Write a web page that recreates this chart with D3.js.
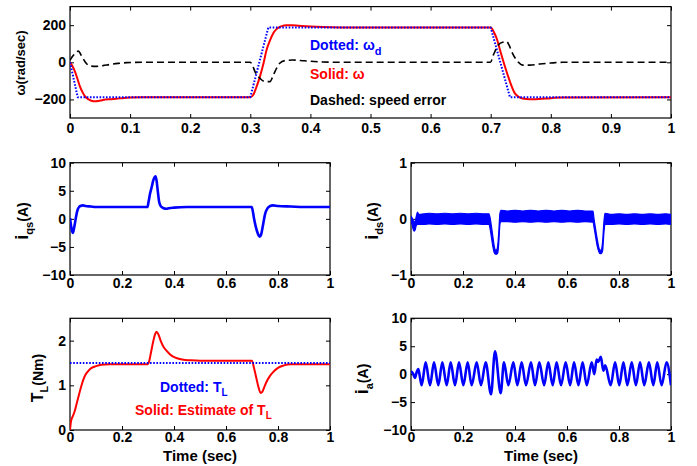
<!DOCTYPE html>
<html>
<head>
<meta charset="utf-8">
<script src="https://cdn.jsdelivr.net/npm/d3@7"></script>
<style>
  body { margin: 0; background: #fff; }
  svg text { font-family: "Liberation Sans", Arial, sans-serif; font-weight: bold; }
</style>
</head>
<body>
<svg id="fig" width="697" height="466"></svg>
<script>
// ---- speed response (rad/sec) ----
const omegaRefT = [0, 0.0128, 0.3, 0.33, 0.7, 0.732, 1];
const omegaRef  = [0, -188, -188, 188, 188, -188, -188];

const omegaT = [0, 0.004, 0.0083, 0.0125, 0.0166, 0.021, 0.025, 0.031, 0.0388, 0.047, 0.055, 0.066, 0.077, 0.09, 0.1, 0.12,
  0.3, 0.305, 0.31, 0.316, 0.322, 0.327, 0.333, 0.338, 0.344, 0.349, 0.355, 0.36, 0.37, 0.38, 0.4, 0.42, 0.45,
  0.7, 0.705, 0.71, 0.7155, 0.7238, 0.732, 0.74, 0.746, 0.7515, 0.76, 0.77, 0.78, 0.8, 0.82, 1];
const omega = [0, -20, -50, -90, -131, -162, -184, -200, -210, -208, -203, -199, -196, -192, -190, -188,
  -188, -175, -135, -77, -5, 66, 120, 155, 180, 191, 197, 200, 199, 197, 193, 190, 188,
  188, 165, 128, 66, -24, -104, -166, -185, -194, -198, -199, -198, -193, -189, -188];

const errT = [0, 0.005, 0.0138, 0.02, 0.025, 0.033, 0.044, 0.055, 0.066, 0.08, 0.094, 0.12,
  0.3, 0.304, 0.3078, 0.316, 0.3245, 0.3328, 0.337, 0.341, 0.345, 0.349, 0.3577, 0.37, 0.39, 0.42, 0.45,
  0.6995, 0.7044, 0.7126, 0.72, 0.7266, 0.731, 0.735, 0.743, 0.754, 0.765, 0.78, 0.8, 0.82, 1];
const speedErr = [12, 35, 60, 30, 3, -20, -22, -18, -12, -6, -2, 0,
  0, -20, -50, -86, -104, -104, -80, -50, -25, -5, 9, 12, 8, 2, 0,
  0, 39, 93, 108, 110, 90, 57, 12, -15, -15, -10, -4, 0, 0];

// ---- q-axis stator current (A) ----
const iqsT = [0, 0.004, 0.008, 0.011, 0.015, 0.02, 0.025, 0.03, 0.035, 0.04, 0.05, 0.06, 0.08, 0.1, 0.15, 0.2, 0.25,
  0.298, 0.302, 0.308, 0.315, 0.32, 0.325, 0.329, 0.333, 0.338, 0.343, 0.35, 0.36, 0.37, 0.38, 0.4, 0.45, 0.5, 0.6,
  0.699, 0.703, 0.708, 0.714, 0.72, 0.726, 0.73, 0.735, 0.742, 0.75, 0.76, 0.77, 0.78, 0.8, 0.85, 0.9, 1];
const iqs = [0.1, -1.2, -2.2, -2.5, -1.8, -0.5, 0.8, 1.7, 2.1, 2.3, 2.4, 2.3, 2.2, 2.1, 2.1, 2.1, 2.1,
  2.1, 3.0, 4.5, 5.8, 6.8, 7.4, 7.6, 6.8, 4.8, 3.0, 2.2, 1.9, 1.8, 1.9, 2.0, 2.1, 2.1, 2.1,
  2.1, 1.4, 0.0, -1.3, -2.3, -3.0, -3.2, -2.8, -1.2, 0.8, 1.9, 2.3, 2.4, 2.3, 2.2, 2.1, 2.1];

// ---- d-axis stator current (A): ripple band, upper and lower envelope ----
const idsT = [0, 0.004, 0.008, 0.012, 0.016, 0.02, 0.025, 0.03, 0.05, 0.07, 0.1, 0.13, 0.16, 0.19, 0.22, 0.25, 0.28, 0.3,
  0.305, 0.31, 0.315, 0.32, 0.325, 0.33, 0.334, 0.338, 0.342, 0.346, 0.37, 0.4, 0.43, 0.46, 0.49, 0.52, 0.55, 0.58, 0.61, 0.64, 0.67, 0.7,
  0.704, 0.71, 0.716, 0.722, 0.727, 0.732, 0.737, 0.742, 0.746, 0.77, 0.8, 0.83, 0.86, 0.89, 0.92, 0.95, 0.98, 1];
const idsHi = [0.05, 0.02, -0.02, -0.06, -0.04, 0.04, 0.12, 0.08, 0.09, 0.1, 0.09, 0.1, 0.09, 0.1, 0.09, 0.1, 0.09, 0.09,
  0.0, -0.15, -0.32, -0.48, -0.56, -0.55, -0.45, -0.2, 0.1, 0.15, 0.14, 0.15, 0.14, 0.15, 0.14, 0.15, 0.14, 0.15, 0.14, 0.15, 0.14, 0.14,
  0.0, -0.18, -0.35, -0.5, -0.56, -0.55, -0.4, -0.05, 0.1, 0.08, 0.09, 0.08, 0.09, 0.08, 0.09, 0.08, 0.09, 0.08];
const idsLo = [-0.05, -0.1, -0.18, -0.22, -0.2, -0.12, -0.1, -0.1, -0.1, -0.09, -0.1, -0.09, -0.1, -0.09, -0.1, -0.09, -0.1, -0.1,
  -0.2, -0.35, -0.5, -0.6, -0.63, -0.63, -0.6, -0.4, -0.1, -0.05, -0.05, -0.06, -0.05, -0.06, -0.05, -0.06, -0.05, -0.06, -0.05, -0.06, -0.05, -0.06,
  -0.15, -0.32, -0.48, -0.58, -0.62, -0.62, -0.57, -0.25, -0.1, -0.1, -0.09, -0.1, -0.09, -0.1, -0.09, -0.1, -0.09, -0.1];

// ---- load torque and its estimate (Nm) ----
const loadT = [0, 1];
const loadTorque = [1.5, 1.5];
const estT = [0, 0.004, 0.01, 0.018, 0.026, 0.034, 0.042, 0.051, 0.06, 0.07, 0.083, 0.1, 0.12, 0.15, 0.2, 0.3,
  0.305, 0.312, 0.32, 0.327, 0.333, 0.34, 0.35, 0.36, 0.372, 0.385, 0.397, 0.415, 0.436, 0.46, 0.5, 0.6, 0.7,
  0.708, 0.716, 0.724, 0.733, 0.74, 0.748, 0.756, 0.768, 0.782, 0.8, 0.82, 0.85, 0.9, 1];
const estTorque = [0, 0.2, 0.3, 0.42, 0.6, 0.78, 0.95, 1.12, 1.24, 1.32, 1.39, 1.43, 1.46, 1.47, 1.47, 1.47,
  1.55, 1.75, 1.98, 2.14, 2.2, 2.14, 1.98, 1.86, 1.77, 1.69, 1.64, 1.6, 1.57, 1.56, 1.55, 1.55, 1.55,
  1.38, 1.18, 0.98, 0.83, 0.86, 0.97, 1.08, 1.2, 1.3, 1.39, 1.44, 1.47, 1.47, 1.47];

// ---- phase-a current (A): turning points of the waveform ----
const iaT = [0, 0.008, 0.015, 0.022, 0.028, 0.034, 0.041, 0.0564, 0.0731, 0.0885, 0.1051, 0.1205, 0.1372, 0.1526, 0.1692,
  0.1846, 0.2013, 0.218, 0.2333, 0.2526, 0.2692, 0.2872, 0.3077, 0.3231, 0.3449, 0.3577, 0.3744, 0.3936, 0.409, 0.4256,
  0.4423, 0.4615, 0.4769, 0.4936, 0.512, 0.528, 0.545, 0.56, 0.577, 0.595, 0.612, 0.627, 0.644, 0.66, 0.676, 0.695,
  0.705, 0.714, 0.72, 0.73, 0.74, 0.747, 0.768, 0.785, 0.801, 0.817, 0.832, 0.849, 0.865, 0.881, 0.897, 0.915, 0.932,
  0.947, 0.964, 0.983, 1.0];
const ia = [0.5, 0.1, -0.7, 0.4, 0.9, -0.4, -2.0, 2.1, -2.0, 2.1, -2.0, 2.1, -2.0, 2.1, -2.0,
  2.1, -2.0, 2.1, -2.0, 2.1, -2.0, 2.1, -3.6, 4.1, -3.4, 2.1, -2.0, 2.1, -2.0, 2.1,
  -2.0, 2.1, -2.0, 2.1, -2.0, 2.1, -2.0, 2.1, -2.0, 2.1, -2.0, 2.1, -2.0, 2.1, -2.0, 2.1,
  0.0, 2.6, 2.2, 3.1, 0.6, 1.6, -2.0, 2.1, -2.0, 2.1, -2.0, 2.1, -2.0, 2.1, -2.0, 2.1, -2.0,
  2.1, -2.0, 2.1, -2.0];

// ---- tick values ----
const xTicksTop = [0, 0.1, 0.2, 0.3, 0.4, 0.5, 0.6, 0.7, 0.8, 0.9, 1];
const xTicksSmall = [0, 0.2, 0.4, 0.6, 0.8, 1];
const yTicksOmega = [-200, 0, 200];
const yTicksTen = [-10, -5, 0, 5, 10];
const yTicksOne = [-1, 0, 1];
const yTicksTorque = [0, 1, 2];

const svg = d3.select("#fig");
svg.append("rect").attr("width", 697).attr("height", 466).attr("fill", "#fff");

const tickFmt = d => (d === 0 ? "0" : d === 1 ? "1" : d3.format("~g")(d));
let clipId = 0;

function panel(o) {
  const x = d3.scaleLinear().domain([0, 1]).range([o.left, o.right]);
  const y = d3.scaleLinear().domain(o.yDomain).range([o.bottom, o.top]);
  const g = svg.append("g");
  const id = "clip" + (clipId++);
  g.append("clipPath").attr("id", id).append("rect")
    .attr("x", o.left).attr("y", o.top).attr("width", o.right - o.left).attr("height", o.bottom - o.top);

  const styleAxis = sel => {
    sel.select(".domain").remove();
    sel.selectAll("line").attr("stroke", "#000").attr("stroke-width", 1);
    sel.selectAll("text").attr("fill", "#000").style("font-size", "14px").style("font-weight", "bold");
  };
  g.append("g").attr("transform", `translate(0,${o.bottom})`)
    .call(d3.axisBottom(x).tickValues(o.xTicks).tickFormat(tickFmt).tickSize(-4).tickPadding(o.xPad))
    .call(styleAxis);
  g.append("g").attr("transform", `translate(0,${o.top})`)
    .call(d3.axisTop(x).tickValues(o.xTicks).tickFormat("").tickSize(-4))
    .call(styleAxis);
  g.append("g").attr("transform", `translate(${o.left},0)`)
    .call(d3.axisLeft(y).tickValues(o.yTicks).tickFormat(tickFmt).tickSize(-4).tickPadding(4))
    .call(styleAxis);
  g.append("g").attr("transform", `translate(${o.right},0)`)
    .call(d3.axisRight(y).tickValues(o.yTicks).tickFormat("").tickSize(-4))
    .call(styleAxis);

  g.append("rect")
    .attr("x", o.left).attr("y", o.top).attr("width", o.right - o.left).attr("height", o.bottom - o.top)
    .attr("fill", "none").attr("stroke", "#000").attr("stroke-width", 1.2);

  const plot = g.append("g").attr("clip-path", `url(#${id})`);
  return { x, y, g, plot };
}

function drawLine(p, ts, vs, style, curve) {
  const pts = ts.map((t, i) => [t, vs[i]]);
  const line = d3.line().x(d => p.x(d[0])).y(d => p.y(d[1])).curve(curve || d3.curveMonotoneX);
  const path = p.plot.append("path").datum(pts).attr("d", line)
    .attr("fill", "none").attr("stroke", style.color).attr("stroke-width", style.width)
    .attr("stroke-linejoin", "round");
  if (style.dash) path.attr("stroke-dasharray", style.dash);
  return path;
}

// y-axis label with optional subscript, rotated to read upward
function yLabel(cx, cy, parts) {
  const t = svg.append("text")
    .attr("transform", `translate(${cx},${cy}) rotate(-90)`)
    .attr("text-anchor", "middle").attr("fill", "#000");
  parts.forEach(pt => {
    const s = t.append("tspan").text(pt.text).style("font-size", pt.size + "px");
    if (pt.dy) s.attr("dy", pt.dy);
  });
  return t;
}

// ================= speed =================
const pw = panel({ left: 70, right: 671, top: 6.6, bottom: 118, yDomain: [-300, 300],
  xTicks: xTicksTop, yTicks: yTicksOmega, xPad: 5 });
drawLine(pw, omegaT, omega, { color: "#ff0000", width: 2 });
drawLine(pw, omegaRefT, omegaRef, { color: "#0000ff", width: 2, dash: "1.6,1.6" }, d3.curveLinear);
drawLine(pw, errT, speedErr, { color: "#000", width: 1.6, dash: "7,4" });

yLabel(25, 63, [{ text: "ω(rad/sec)", size: 13 }]);

const leg1 = svg.append("g");
const l1 = leg1.append("text").attr("x", 310).attr("y", 50).attr("fill", "#0000ff").style("font-size", "14px");
l1.append("tspan").text("Dotted: ω");
l1.append("tspan").text("d").style("font-size", "11px").attr("dy", 5);
leg1.append("text").attr("x", 310).attr("y", 79).attr("fill", "#ff0000").style("font-size", "14px").text("Solid: ω");
leg1.append("text").attr("x", 310).attr("y", 105).attr("fill", "#000").style("font-size", "14px").text("Dashed: speed error");

// ================= i_qs =================
const pq = panel({ left: 70, right: 330, top: 162.7, bottom: 275, yDomain: [-10, 10],
  xTicks: xTicksSmall, yTicks: yTicksTen, xPad: 3 });
drawLine(pq, iqsT, iqs, { color: "#0000ff", width: 2.6 });
yLabel(28, 221, [{ text: "i", size: 18 }, { text: "qs", size: 11, dy: 5 }, { text: "(A)", size: 14, dy: -5 }]);

// ================= i_ds =================
const pd = panel({ left: 411, right: 671, top: 162.7, bottom: 275, yDomain: [-1, 1],
  xTicks: xTicksSmall, yTicks: yTicksOne, xPad: 3 });
const band = idsT.map((t, i) => [t, idsHi[i], idsLo[i]]);
pd.plot.append("path").datum(band)
  .attr("d", d3.area().x(d => pd.x(d[0])).y0(d => pd.y(d[2])).y1(d => pd.y(d[1])).curve(d3.curveMonotoneX))
  .attr("fill", "#0000ff").attr("stroke", "#0000ff").attr("stroke-width", 1.2).attr("stroke-linejoin", "round");
yLabel(378, 221, [{ text: "i", size: 18 }, { text: "ds", size: 11, dy: 5 }, { text: "(A)", size: 14, dy: -5 }]);

// ================= load torque =================
const pt = panel({ left: 70, right: 330, top: 318.3, bottom: 430, yDomain: [0, 2.5],
  xTicks: xTicksSmall, yTicks: yTicksTorque, xPad: 2 });
drawLine(pt, estT, estTorque, { color: "#ff0000", width: 2 });
drawLine(pt, loadT, loadTorque, { color: "#0000ff", width: 2, dash: "1.6,1.6" }, d3.curveLinear);
yLabel(43, 378, [{ text: "T", size: 16 }, { text: "L", size: 11, dy: 5 }, { text: "(Nm)", size: 14, dy: -5 }]);

const l2 = svg.append("text").attr("x", 160).attr("y", 392).attr("fill", "#0000ff").style("font-size", "14px");
l2.append("tspan").text("Dotted: T");
l2.append("tspan").text("L").style("font-size", "10px").attr("dy", 4);
const l3 = svg.append("text").attr("x", 135).attr("y", 415).attr("fill", "#ff0000").style("font-size", "14px");
l3.append("tspan").text("Solid: Estimate of T");
l3.append("tspan").text("L").style("font-size", "10px").attr("dy", 4);

svg.append("text").attr("x", 200).attr("y", 461).attr("text-anchor", "middle").style("font-size", "15px").text("Time (sec)");

// ================= i_a =================
const pa = panel({ left: 411, right: 671, top: 318.3, bottom: 430, yDomain: [-10, 10],
  xTicks: xTicksSmall, yTicks: yTicksTen, xPad: 2 });
drawLine(pa, iaT, ia, { color: "#0000ff", width: 2.6 });
yLabel(368, 379, [{ text: "i", size: 18 }, { text: "a", size: 11, dy: 5 }, { text: "(A)", size: 14, dy: -5 }]);

svg.append("text").attr("x", 541).attr("y", 461).attr("text-anchor", "middle").style("font-size", "15px").text("Time (sec)");
</script>
</body>
</html>
